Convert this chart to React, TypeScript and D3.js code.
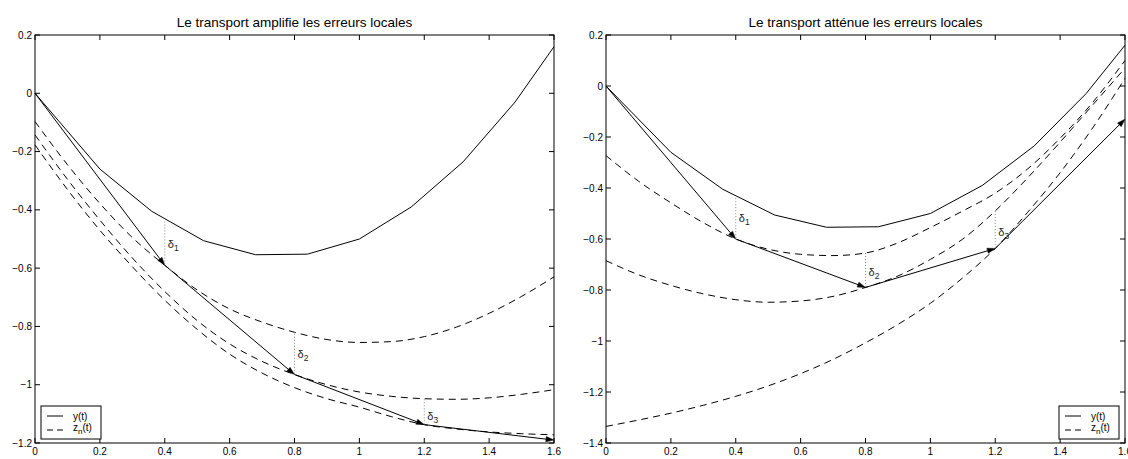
import React from 'react';
import * as d3 from 'd3';

// ---------- data ----------
const tExact = [0, 0.2, 0.36, 0.52, 0.68, 0.84, 1.0, 1.16, 1.32, 1.48, 1.6];
const yExact = [0, -0.26, -0.405, -0.506, -0.554, -0.552, -0.5, -0.39, -0.235, -0.03, 0.16];

const tEuler = [0, 0.4, 0.8, 1.2, 1.6];
const uAmplify = [0, -0.59, -0.965, -1.137, -1.19];
const uAttenuate = [0, -0.6, -0.79, -0.637, -0.13];

const tZ = [0, 0.1, 0.2, 0.3, 0.4, 0.5, 0.6, 0.7, 0.8, 0.9, 1.0, 1.1, 1.2, 1.3, 1.4, 1.5, 1.6];
const zAmplify1 = [-0.097, -0.245, -0.378, -0.495, -0.59, -0.675, -0.74, -0.785, -0.82, -0.845, -0.855, -0.852, -0.835, -0.802, -0.755, -0.697, -0.63];
const zAmplify2 = [-0.143, -0.295, -0.435, -0.565, -0.68, -0.78, -0.86, -0.92, -0.965, -1.0, -1.025, -1.04, -1.048, -1.05, -1.045, -1.033, -1.017];
const zAmplify3 = [-0.177, -0.33, -0.47, -0.595, -0.71, -0.81, -0.895, -0.96, -1.01, -1.048, -1.077, -1.11, -1.137, -1.152, -1.162, -1.168, -1.172];

const zAttenuate1 = [-0.273, -0.373, -0.458, -0.536, -0.6, -0.64, -0.66, -0.665, -0.655, -0.615, -0.555, -0.49, -0.42, -0.325, -0.205, -0.065, 0.1];
const zAttenuate2 = [-0.685, -0.74, -0.782, -0.815, -0.838, -0.848, -0.843, -0.825, -0.79, -0.745, -0.68, -0.6, -0.49, -0.36, -0.22, -0.075, 0.07];
const zAttenuate3 = [-1.335, -1.31, -1.283, -1.252, -1.217, -1.176, -1.128, -1.072, -1.007, -0.935, -0.852, -0.752, -0.637, -0.495, -0.34, -0.165, 0.03];

const xTicks = [0, 0.2, 0.4, 0.6, 0.8, 1, 1.2, 1.4, 1.6];
const yTicksAmplify = [0.2, 0, -0.2, -0.4, -0.6, -0.8, -1, -1.2];
const yTicksAttenuate = [0.2, 0, -0.2, -0.4, -0.6, -0.8, -1, -1.2, -1.4];

const deltaT = [0.4, 0.8, 1.2];
const deltaTopAmplify = [-0.44, -0.825, -1.05];
const deltaTopAttenuate = [-0.44, -0.655, -0.49];
const deltaLabelAmplify = [-0.531, -0.908, -1.121];
const deltaLabelAttenuate = [-0.533, -0.745, -0.588];
const deltaNames = ['1', '2', '3'];

const titleAmplify = 'Le transport amplifie les erreurs locales';
const titleAttenuate = 'Le transport atténue les erreurs locales';
const legendLabels = ['y(t)', 'z', 'n', '(t)'];

// ---------- layout ----------
const W = 1128;
const H = 459;
const TOP = 35;
const BOTTOM = 443;
const FONT = "'Liberation Sans', Arial, Helvetica, sans-serif";

const fmt = (v: number) => {
  const s = String(Math.round(v * 100) / 100);
  return s.replace('-', '\u2212');
};

type PanelProps = {
  left: number;
  right: number;
  yDomain: [number, number];
  yTicks: number[];
  euler: number[];
  zs: number[][];
  deltaTop: number[];
  deltaLabel: number[];
  title: string;
  legendSide: 'left' | 'right';
};

function Panel(p: PanelProps) {
  const x = d3.scaleLinear().domain([0, 1.6]).range([p.left, p.right]);
  const y = d3.scaleLinear().domain(p.yDomain).range([BOTTOM, TOP]);

  const exactLine = d3.line<number>().x((_, i) => x(tExact[i])).y((d) => y(d));
  const zLine = d3
    .line<number>()
    .x((_, i) => x(tZ[i]))
    .y((d) => y(d))
    .curve(d3.curveMonotoneX);

  const tickLen = 5;
  const segs: JSX.Element[] = [];
  for (let i = 0; i < tEuler.length - 1; i++) {
    const x1 = x(tEuler[i]);
    const y1 = y(p.euler[i]);
    const x2 = x(tEuler[i + 1]);
    const y2 = y(p.euler[i + 1]);
    const a = Math.atan2(y2 - y1, x2 - x1);
    const L = 8;
    const hw = 2.6;
    const bx = x2 - L * Math.cos(a);
    const by = y2 - L * Math.sin(a);
    const pts = [
      [x2, y2],
      [bx + hw * Math.sin(a), by - hw * Math.cos(a)],
      [bx - hw * Math.sin(a), by + hw * Math.cos(a)],
    ]
      .map((q) => q.join(','))
      .join(' ');
    segs.push(
      <g key={'seg' + i}>
        <line x1={x1} y1={y1} x2={bx} y2={by} stroke="#000" strokeWidth={1} />
        <polygon points={pts} fill="#000" stroke="#000" strokeWidth={0.5} />
      </g>
    );
  }

  const boxW = 60;
  const boxH = 33;
  const lx = p.legendSide === 'left' ? p.left + 6 : p.right - 6 - boxW;
  const ly = BOTTOM - 4 - boxH;

  return (
    <g>
      <text
        x={(p.left + p.right) / 2}
        y={27}
        textAnchor="middle"
        fontFamily={FONT}
        fontSize={13.5}
        fill="#000"
      >
        {p.title}
      </text>

      {/* dashed z_n curves */}
      {p.zs.map((z, i) => (
        <path key={'z' + i} d={zLine(z) || ''} fill="none" stroke="#000" strokeWidth={1} strokeDasharray="7,5" />
      ))}

      {/* exact solution */}
      <path d={exactLine(yExact) || ''} fill="none" stroke="#000" strokeWidth={1} />

      {/* Euler steps */}
      {segs}

      {/* delta markers */}
      {deltaT.map((t, i) => (
        <g key={'d' + i}>
          <line
            x1={x(t)}
            x2={x(t)}
            y1={y(p.deltaTop[i])}
            y2={y(p.euler[i + 1])}
            stroke="#888"
            strokeWidth={1}
            strokeDasharray="1,2"
          />
          <text x={x(t) + 3} y={y(p.deltaLabel[i])} fontFamily={FONT} fontSize={11} fill="#222">
            δ
            <tspan fontSize={8.5} dy={3}>
              {deltaNames[i]}
            </tspan>
          </text>
        </g>
      ))}

      {/* axes box */}
      <rect x={p.left} y={TOP} width={p.right - p.left} height={BOTTOM - TOP} fill="none" stroke="#000" strokeWidth={1} />

      {xTicks.map((t) => (
        <g key={'xt' + t}>
          <line x1={x(t)} x2={x(t)} y1={BOTTOM} y2={BOTTOM - tickLen} stroke="#000" />
          <line x1={x(t)} x2={x(t)} y1={TOP} y2={TOP + tickLen} stroke="#000" />
          <text x={x(t)} y={455} textAnchor="middle" fontFamily={FONT} fontSize={10} fill="#000">
            {fmt(t)}
          </text>
        </g>
      ))}
      {p.yTicks.map((v) => (
        <g key={'yt' + v}>
          <line x1={p.left} x2={p.left + tickLen} y1={y(v)} y2={y(v)} stroke="#000" />
          <line x1={p.right} x2={p.right - tickLen} y1={y(v)} y2={y(v)} stroke="#000" />
          <text
            x={p.left - 3}
            y={y(v)}
            dy="0.35em"
            textAnchor="end"
            fontFamily={FONT}
            fontSize={10}
            fill="#000"
          >
            {fmt(v)}
          </text>
        </g>
      ))}

      {/* legend */}
      <g>
        <rect x={lx} y={ly} width={boxW} height={boxH} fill="#fff" stroke="#000" strokeWidth={1} />
        <line x1={lx + 6} x2={lx + 22} y1={ly + 10} y2={ly + 10} stroke="#000" strokeWidth={1} />
        <text x={lx + 32} y={ly + 13.5} fontFamily={FONT} fontSize={10} fill="#000">
          {legendLabels[0]}
        </text>
        <line x1={lx + 6} x2={lx + 22} y1={ly + 24} y2={ly + 24} stroke="#000" strokeWidth={1} strokeDasharray="6,4" />
        <text x={lx + 32} y={ly + 25} fontFamily={FONT} fontSize={10} fill="#000">
          {legendLabels[1]}
          <tspan fontSize={8} dy={3}>
            {legendLabels[2]}
          </tspan>
          <tspan dy={-3}>{legendLabels[3]}</tspan>
        </text>
      </g>
    </g>
  );
}

export default function App() {
  React.useEffect(() => {
    document.body.style.margin = '0';
  }, []);
  return (
    <svg width={W} height={H} style={{ position: 'absolute', left: 0, top: 0, background: '#fff' }}>
      <rect x={0} y={0} width={W} height={H} fill="#fff" />
      <Panel
        left={35}
        right={554}
        yDomain={[-1.2, 0.2]}
        yTicks={yTicksAmplify}
        euler={uAmplify}
        zs={[zAmplify1, zAmplify2, zAmplify3]}
        deltaTop={deltaTopAmplify}
        deltaLabel={deltaLabelAmplify}
        title={titleAmplify}
        legendSide="left"
      />
      <Panel
        left={606}
        right={1125}
        yDomain={[-1.4, 0.2]}
        yTicks={yTicksAttenuate}
        euler={uAttenuate}
        zs={[zAttenuate1, zAttenuate2, zAttenuate3]}
        deltaTop={deltaTopAttenuate}
        deltaLabel={deltaLabelAttenuate}
        title={titleAttenuate}
        legendSide="right"
      />
    </svg>
  );
}
